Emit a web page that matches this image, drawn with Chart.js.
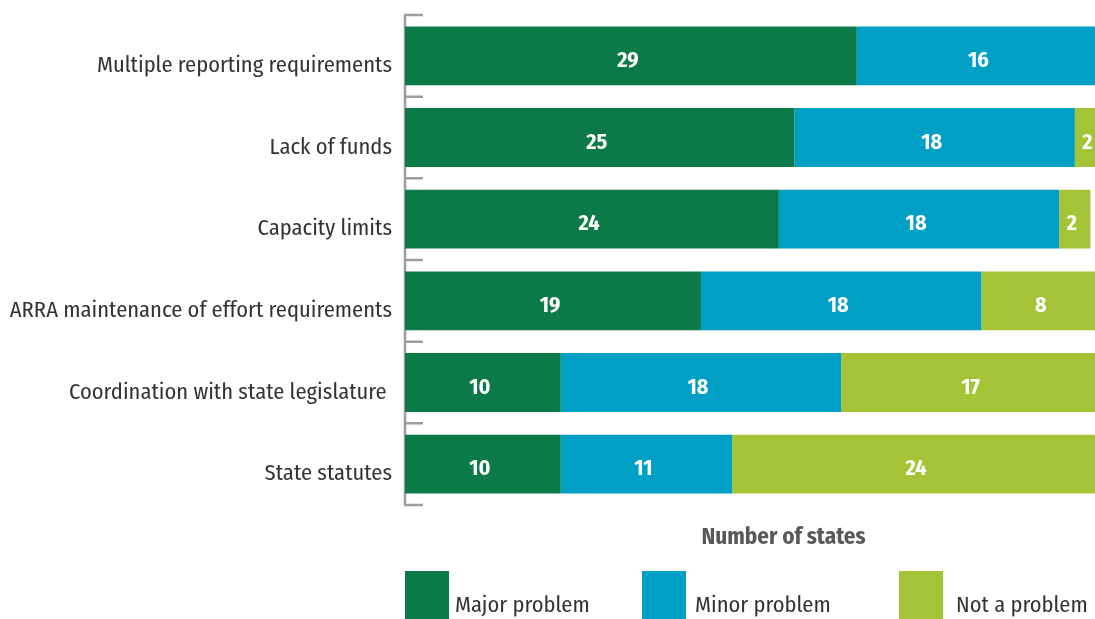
<!DOCTYPE html>
<html>
<head>
<meta charset="utf-8">
<script src="https://cdn.jsdelivr.net/npm/chart.js@4"></script>
<style>
  html, body { margin: 0; padding: 0; background: #fff; overflow: hidden; }
  #wrap { width: 1112px; height: 619px; }
</style>
</head>
<body>
<div id="wrap"><canvas id="myChart" width="1112" height="619"></canvas></div>
<script>
const categories = [
    'Multiple reporting requirements',
    'Lack of funds',
    'Capacity limits',
    'ARRA maintenance of effort requirements',
    'Coordination with state legislature ',
    'State statutes'
];
const majorProblem = [29, 25, 24, 19, 10, 10];
const minorProblem = [16, 18, 18, 18, 18, 11];
const notAProblem  = [0, 2, 2, 8, 17, 24];
const seriesNames = ['Major problem', 'Minor problem', 'Not a problem'];
const axisTitle = 'Number of states';

const FONT = '"Fira Sans Condensed", "Roboto Condensed", sans-serif';
const colors = ['#0b7a48', '#00a0c6', '#a4c337'];

document.addEventListener("DOMContentLoaded", function () {
    const ctx = document.getElementById('myChart').getContext('2d');

    // left axis line with short ticks on the band edges, drawn under the bars
    const axisLine = {
        id: 'axisLine',
        beforeDatasetsDraw(chart) {
            const { ctx, chartArea: { left, top, bottom } } = chart;
            const band = (bottom - top) / categories.length;
            ctx.save();
            ctx.strokeStyle = '#9d9d9d';
            ctx.lineWidth = 2.5;
            ctx.beginPath();
            ctx.moveTo(left, top);
            ctx.lineTo(left, bottom);
            for (let i = 0; i <= categories.length; i++) {
                const y = top + i * band;
                ctx.moveTo(left - 1, y);
                ctx.lineTo(left + 18, y);
            }
            ctx.stroke();
            ctx.restore();
        }
    };

    // white value labels in the middle of each segment
    const segmentLabels = {
        id: 'segmentLabels',
        afterDatasetsDraw(chart) {
            const { ctx } = chart;
            ctx.save();
            ctx.font = `bold 22px ${FONT}`;
            ctx.fillStyle = '#ffffff';
            ctx.textAlign = 'center';
            ctx.textBaseline = 'middle';
            chart.data.datasets.forEach((ds, di) => {
                chart.getDatasetMeta(di).data.forEach((bar, i) => {
                    const v = ds.data[i];
                    if (!v) return;
                    ctx.fillText(String(v), (bar.x + bar.base) / 2 - 3, bar.y + 5);
                });
            });
            ctx.restore();
        }
    };

    // axis title and the legend underneath
    const bottomText = {
        id: 'bottomText',
        afterDraw(chart) {
            const { ctx, scales: { x } } = chart;
            ctx.save();
            ctx.font = `bold 23px ${FONT}`;
            ctx.fillStyle = '#595959';
            ctx.textAlign = 'center';
            ctx.textBaseline = 'alphabetic';
            ctx.fillText(axisTitle, x.getPixelForValue(24.3), 544);

            const boxX = [405, 642, 899];
            const textX = [455, 695, 956];
            ctx.font = `22.5px ${FONT}`;
            ctx.textAlign = 'left';
            seriesNames.forEach((name, i) => {
                ctx.fillStyle = colors[i];
                ctx.fillRect(boxX[i], 571, 44, 52);
                ctx.fillStyle = '#333333';
                ctx.fillText(name, textX[i], 612);
            });
            ctx.restore();
        }
    };

    new Chart(ctx, {
        type: 'bar',
        data: {
            labels: categories,
            datasets: [
                { label: seriesNames[0], data: majorProblem, backgroundColor: colors[0] },
                { label: seriesNames[1], data: minorProblem, backgroundColor: colors[1] },
                { label: seriesNames[2], data: notAProblem, backgroundColor: colors[2] }
            ]
        },
        options: {
            indexAxis: 'y',
            responsive: false,
            animation: false,
            datasets: {
                bar: {
                    categoryPercentage: 1,
                    barPercentage: 0.72,
                    borderWidth: 0
                }
            },
            layout: { padding: { top: 15, bottom: 114, right: 6, left: 0 } },
            scales: {
                x: {
                    stacked: true,
                    min: 0,
                    max: 45,
                    display: false
                },
                y: {
                    stacked: true,
                    grid: { display: false, drawTicks: false },
                    border: { display: false },
                    ticks: {
                        color: '#333333',
                        padding: 13,
                        labelOffset: 10,
                        font: { family: FONT, size: 22.5 }
                    },
                    afterFit(scale) {
                        scale.width = 405;
                        scale.paddingTop = 0;
                        scale.paddingBottom = 0;
                    }
                }
            },
            plugins: {
                legend: { display: false },
                tooltip: { enabled: false }
            }
        },
        plugins: [axisLine, segmentLabels, bottomText]
    });
});
</script>
</body>
</html>
